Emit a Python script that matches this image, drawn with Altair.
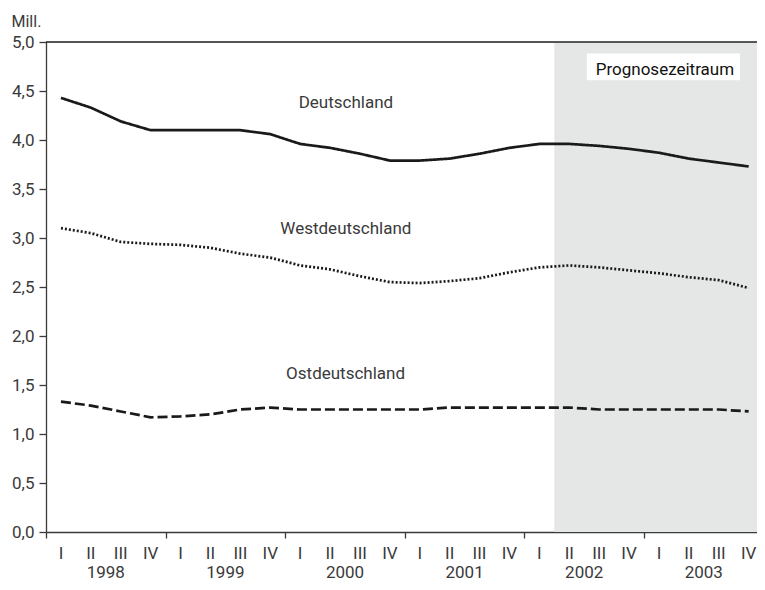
import altair as alt
import pandas as pd

quarter_labels = ["I", "II", "III", "IV"] * 6
years = ["1998", "1999", "2000", "2001", "2002", "2003"]
deutschland = [4.43, 4.33, 4.19, 4.10, 4.10, 4.10, 4.10, 4.06, 3.96, 3.92, 3.86, 3.79,
               3.79, 3.81, 3.86, 3.92, 3.96, 3.96, 3.94, 3.91, 3.87, 3.81, 3.77, 3.73]
westdeutschland = [3.10, 3.05, 2.96, 2.94, 2.93, 2.90, 2.84, 2.80, 2.72, 2.68, 2.61, 2.55,
                   2.54, 2.56, 2.59, 2.65, 2.70, 2.72, 2.70, 2.67, 2.64, 2.60, 2.57, 2.49]
ostdeutschland = [1.33, 1.29, 1.23, 1.17, 1.18, 1.20, 1.25, 1.27, 1.25, 1.25, 1.25, 1.25,
                  1.25, 1.27, 1.27, 1.27, 1.27, 1.27, 1.25, 1.25, 1.25, 1.25, 1.25, 1.23]
forecast_start = 17.0
y_ticks = [0, 0.5, 1, 1.5, 2, 2.5, 3, 3.5, 4, 4.5, 5]
year_ticks = [0, 4, 8, 12, 16, 20]

FONT = "Roboto"
INK = "#3a3a3a"
LEFT, TOP, BOTTOM = 38, 34, 50
W, H = 711, 490
QW = 29.9  # pixel width of one quarter
x_end = W / QW

n = len(quarter_labels)
series = pd.DataFrame(
    [{"q": i + 0.5, "value": v, "series": "Deutschland"} for i, v in enumerate(deutschland)]
    + [{"q": i + 0.5, "value": v, "series": "Westdeutschland"} for i, v in enumerate(westdeutschland)]
    + [{"q": i + 0.5, "value": v, "series": "Ostdeutschland"} for i, v in enumerate(ostdeutschland)]
)
qdf = pd.DataFrame({"q": [i + 0.5 for i in range(n)], "label": quarter_labels})
ydf = pd.DataFrame({"q": [4 * i + 2 for i in range(len(years))], "label": years})
shade = pd.DataFrame({"q": [forecast_start], "q2": [x_end], "value": [0], "value2": [5]})
top = pd.DataFrame({"q": [0], "q2": [x_end], "value": [5]})
labels = pd.DataFrame({
    "q": [10.03, 10.03, 10.02],
    "value": [4.33, 3.037, 1.563],
    "label": ["Deutschland", "Westdeutschland", "Ostdeutschland"],
})
box = pd.DataFrame({"q": [18.09], "q2": [23.21], "value": [4.61], "value2": [4.883]})
boxlabel = pd.DataFrame({"q": [20.7], "value": [4.664], "label": ["Prognosezeitraum"]})

xs = alt.Scale(domain=[0, x_end], nice=False, zero=False)
ys = alt.Scale(domain=[0, 5], nice=False, zero=True)
xaxis = alt.Axis(values=year_ticks, labels=False, tickSize=6, grid=False, title=None,
                 domainColor=INK, tickColor=INK, domainWidth=1.3, tickWidth=1.3)
yaxis = alt.Axis(values=y_ticks, tickSize=7, grid=False, title="Mill.",
                 labelExpr="replace(format(datum.value, '.1f'), '.', ',')",
                 labelFont=FONT, labelFontSize=17, labelColor=INK, labelPadding=5,
                 domainColor=INK, tickColor=INK, domainWidth=1.3, tickWidth=1.3,
                 titleAngle=0, titleAlign="left", titleBaseline="alphabetic",
                 titleX=-35, titleY=-16, titleFont=FONT, titleFontSize=16,
                 titleFontWeight="normal", titleColor=INK)


def X(field="q"):
    return alt.X(f"{field}:Q", scale=xs, axis=xaxis)


def Y(field="value"):
    return alt.Y(f"{field}:Q", scale=ys, axis=yaxis)


shade_layer = alt.Chart(shade).mark_rect(color="#e5e6e6").encode(
    x=X(), x2="q2:Q", y=Y(), y2="value2:Q")
top_layer = alt.Chart(top).mark_rule(color="#222222", strokeWidth=1.5).encode(
    x=X(), x2="q2:Q", y=Y())


def line(name, dash):
    return alt.Chart(series).transform_filter(alt.datum.series == name).mark_line(
        color="#1a1a1a", strokeWidth=2.7, strokeDash=dash, interpolate="linear"
    ).encode(x=X(), y=Y())


l_de = line("Deutschland", [1, 0])
l_we = line("Westdeutschland", [2, 2])
l_os = line("Ostdeutschland", [10, 4])

box_layer = alt.Chart(box).mark_rect(color="white").encode(
    x=X(), x2="q2:Q", y=Y(), y2="value2:Q")
boxtext = alt.Chart(boxlabel).mark_text(font=FONT, fontSize=17, fontWeight="normal",
                                        color="#111111", baseline="alphabetic").encode(
    x=X(), y=Y(), text="label:N")
label_layer = alt.Chart(labels).mark_text(font=FONT, fontSize=17, color=INK,
                                          baseline="alphabetic").encode(
    x=X(), y=Y(), text="label:N")
qlab = alt.Chart(qdf).mark_text(font=FONT, fontSize=17, color=INK, baseline="alphabetic").encode(
    x=X(), y=alt.value(H + 27), text="label:N")
ylab = alt.Chart(ydf).mark_text(font=FONT, fontSize=17, color=INK, baseline="alphabetic").encode(
    x=X(), y=alt.value(H + 46), text="label:N")

chart = alt.layer(
    shade_layer, top_layer, l_we, l_os, l_de, box_layer, boxtext, label_layer, qlab, ylab
).properties(
    width=W, height=H,
    padding={"left": LEFT, "top": TOP, "right": 0, "bottom": BOTTOM},
    autosize=alt.AutoSizeParams(type="none"),
).configure_view(stroke=None).configure(background="white")

chart.save("out.html", embed_options={"renderer": "svg", "actions": False})
